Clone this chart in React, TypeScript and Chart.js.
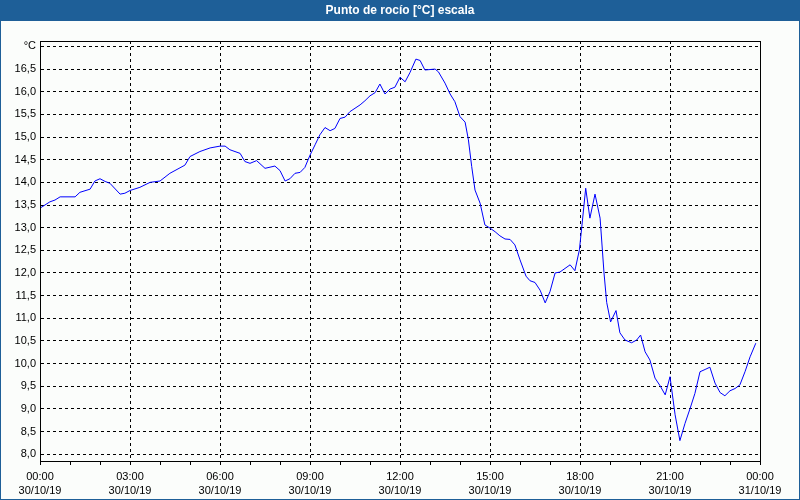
import React, { useEffect, useRef } from "react";
import { Chart, registerables } from "chart.js";

Chart.register(...registerables);

// Time of day in hours (0 = 00:00 30/10/19, 24 = 00:00 31/10/19)
const hours: number[] = [
  0.0, 0.33, 0.5, 0.67, 1.17, 1.33, 1.67, 1.83, 2.0, 2.17, 2.33, 2.67, 2.83, 3.0, 3.33, 3.67,
  4.0, 4.33, 4.83, 5.0, 5.33, 5.67, 6.0, 6.17, 6.33, 6.67, 6.83, 7.0, 7.22, 7.5, 7.83, 8.0,
  8.17, 8.33, 8.5, 8.67, 8.83, 9.0, 9.17, 9.33, 9.5, 9.67, 9.83, 10.0, 10.17, 10.33, 10.67,
  10.83, 11.0, 11.17, 11.33, 11.5, 11.67, 11.83, 12.0, 12.17, 12.33, 12.53, 12.67, 12.83,
  13.17, 13.28, 13.5, 13.67, 13.83, 14.0, 14.17, 14.28, 14.39, 14.5, 14.67, 14.83, 15.0,
  15.17, 15.33, 15.5, 15.67, 15.83, 16.0, 16.2, 16.33, 16.5, 16.67, 16.84, 17.0, 17.17,
  17.33, 17.5, 17.67, 17.83, 17.98, 18.06, 18.19, 18.33, 18.5, 18.67, 18.8, 18.89, 19.02,
  19.2, 19.33, 19.5, 19.72, 19.89, 20.02, 20.17, 20.33, 20.5, 20.67, 20.84, 21.0, 21.17,
  21.33, 21.5, 21.67, 21.83, 22.0, 22.17, 22.33, 22.5, 22.67, 22.83, 23.0, 23.17, 23.33,
  23.5, 23.67, 23.86,
];

// Dew point [°C]
const dewPoint: number[] = [
  13.43, 13.57, 13.61, 13.68, 13.68, 13.78, 13.85, 14.03, 14.08, 14.02, 13.98, 13.74, 13.76,
  13.82, 13.89, 14.0, 14.03, 14.2, 14.38, 14.57, 14.68, 14.76, 14.8, 14.8, 14.72, 14.64,
  14.46, 14.42, 14.48, 14.31, 14.36, 14.26, 14.03, 14.08, 14.2, 14.22, 14.33, 14.6, 14.83,
  15.05, 15.21, 15.14, 15.19, 15.41, 15.44, 15.56, 15.71, 15.8, 15.91, 15.98, 16.17, 15.95,
  16.06, 16.1, 16.32, 16.22, 16.42, 16.72, 16.69, 16.48, 16.5, 16.44, 16.19, 15.95, 15.78,
  15.45, 15.33, 14.94, 14.35, 13.83, 13.54, 13.06, 12.99, 12.91, 12.82, 12.75, 12.74, 12.62,
  12.29, 11.93, 11.83, 11.79, 11.62, 11.34, 11.59, 12.0, 12.02, 12.1, 12.18, 12.05, 12.51,
  13.02, 13.87, 13.21, 13.74, 13.21, 12.0, 11.35, 10.92, 11.17, 10.68, 10.52, 10.46, 10.52,
  10.63, 10.26, 10.08, 9.68, 9.51, 9.31, 9.71, 8.87, 8.3, 8.68, 9.01, 9.34, 9.82, 9.87,
  9.92, 9.57, 9.36, 9.29, 9.4, 9.45, 9.53, 9.82, 10.15, 10.45,
];

const xTickHours: number[] = [0, 1, 2, 3, 4, 5, 6, 7, 8, 9, 10, 11, 12, 13, 14, 15, 16, 17, 18, 19, 20, 21, 22, 23, 24];
const xLabelTimes: string[] = ["00:00", "03:00", "06:00", "09:00", "12:00", "15:00", "18:00", "21:00", "00:00"];
const xLabelDates: string[] = ["30/10/19", "30/10/19", "30/10/19", "30/10/19", "30/10/19", "30/10/19", "30/10/19", "30/10/19", "31/10/19"];
const yTickValues: number[] = [8, 8.5, 9, 9.5, 10, 10.5, 11, 11.5, 12, 12.5, 13, 13.5, 14, 14.5, 15, 15.5, 16, 16.5, 17];
const unitLabel = "°C";
const titleText = "Punto de rocío [°C] escala";

const FONT = "'Liberation Sans', Arial, sans-serif";
const BAR_BLUE = "#1e5f98";

const framePlugin = {
  id: "framePlugin",
  beforeDraw(chart: any) {
    const { ctx, width, height } = chart;
    ctx.save();
    ctx.fillStyle = "#fbfdfb";
    ctx.fillRect(0, 0, width, height);
    ctx.fillStyle = BAR_BLUE;
    ctx.fillRect(0, 0, width, 21);
    ctx.fillRect(0, 0, 1, height);
    ctx.fillRect(width - 1, 0, 1, height);
    ctx.fillRect(0, height - 1, width, 1);
    ctx.restore();
  },
  afterDraw(chart: any) {
    const { ctx, chartArea, width } = chart;
    const l = Math.round(chartArea.left) + 0.5;
    const t = Math.round(chartArea.top) + 0.5;
    const r = Math.round(chartArea.right) + 0.5;
    const b = Math.round(chartArea.bottom) + 0.5;
    ctx.save();
    ctx.strokeStyle = "#000";
    ctx.lineWidth = 1;
    ctx.setLineDash([]);
    ctx.strokeRect(l, t, r - l, b - t);
    ctx.fillStyle = "#ffffff";
    ctx.font = "bold 12px " + FONT;
    ctx.textAlign = "center";
    ctx.textBaseline = "middle";
    ctx.fillText(titleText, width / 2, 10.5);
    ctx.restore();
  },
};

export default function App() {
  const canvasRef = useRef<HTMLCanvasElement | null>(null);

  useEffect(() => {
    if (!canvasRef.current) return;
    const points = hours.map((h, i) => ({ x: h, y: dewPoint[i] }));
    const chart = new Chart(canvasRef.current, {
      type: "line",
      data: {
        datasets: [
          {
            data: points,
            borderColor: "#0000ff",
            borderWidth: 1,
            pointRadius: 0,
            tension: 0,
            fill: false,
          },
        ],
      },
      options: {
        animation: false,
        responsive: false,
        devicePixelRatio: 1,
        layout: { padding: { top: 41, left: 0, right: 40, bottom: 0 } },
        plugins: {
          legend: { display: false },
          tooltip: { enabled: false },
          title: { display: false },
        },
        scales: {
          x: {
            type: "linear",
            min: 0,
            max: 24,
            afterBuildTicks: (scale: any) => {
              scale.ticks = xTickHours.map((v) => ({ value: v }));
            },
            afterFit: (scale: any) => {
              scale.height = 39;
            },
            ticks: {
              autoSkip: false,
              maxRotation: 0,
              minRotation: 0,
              padding: 4,
              color: "#000",
              font: { family: FONT, size: 11, lineHeight: 1.36 },
              callback: (value: any) => {
                const v = Number(value);
                if (v % 3 !== 0) return "";
                const i = v / 3;
                return [xLabelTimes[i], xLabelDates[i]];
              },
            },
            grid: {
              color: (ctx: any) => (ctx.tick && ctx.tick.value % 3 === 0 ? "#000" : "rgba(0,0,0,0)"),
              lineWidth: 1,
              tickColor: "#000",
              tickLength: 4,
              drawTicks: true,
            },
            border: { display: true, color: "#000", width: 1, dash: [3, 3] },
          },
          y: {
            type: "linear",
            min: 7.85,
            max: 17.12,
            afterBuildTicks: (scale: any) => {
              scale.ticks = yTickValues.map((v) => ({ value: v }));
            },
            afterFit: (scale: any) => {
              scale.width = 40;
            },
            ticks: {
              padding: 4,
              color: "#000",
              font: { family: FONT, size: 11 },
              callback: (value: any) => {
                const v = Number(value);
                if (v === 17) return unitLabel;
                return v.toFixed(1).replace(".", ",");
              },
            },
            grid: {
              color: "#000",
              lineWidth: 1,
              drawTicks: false,
            },
            border: { display: true, color: "#000", width: 1, dash: [3, 3] },
          },
        },
      },
      plugins: [framePlugin],
    } as any);
    return () => chart.destroy();
  }, []);

  return (
    <div style={{ position: "fixed", left: 0, top: 0, width: 800, height: 500 }}>
      <canvas ref={canvasRef} width={800} height={500} style={{ display: "block" }} />
    </div>
  );
}
